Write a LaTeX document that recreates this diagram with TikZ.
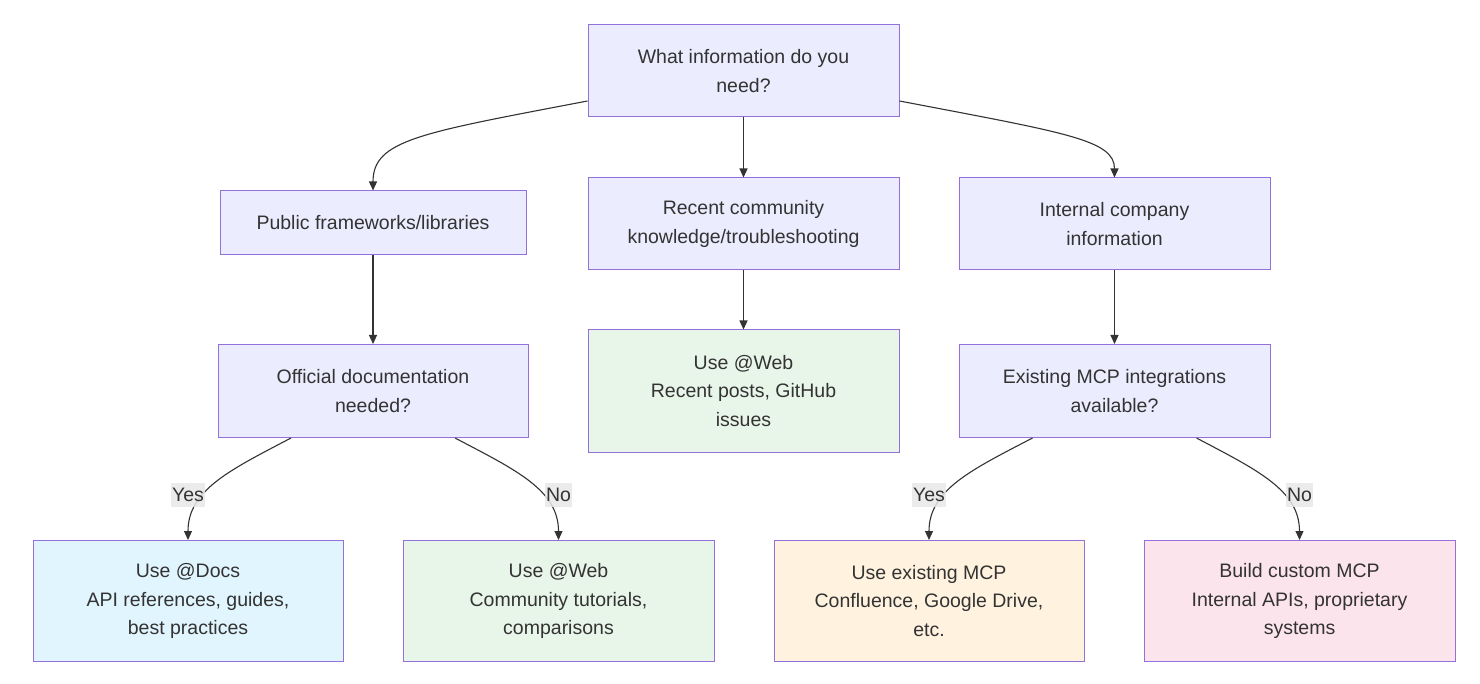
\documentclass[tikz,border=0pt]{standalone}
\usepackage{fontspec}
\setmainfont{Liberation Sans}
\usetikzlibrary{calc,arrows.meta}
\definecolor{pfill}{HTML}{ECECFF}
\definecolor{pstroke}{HTML}{9370DB}
\definecolor{gfill}{HTML}{E8F5E9}
\definecolor{bfill}{HTML}{E1F5FE}
\definecolor{ofill}{HTML}{FFF3E0}
\definecolor{kfill}{HTML}{FCE4EC}
\definecolor{txt}{HTML}{333333}
\definecolor{lblbg}{HTML}{E8E8E8}
\begin{document}
\begin{tikzpicture}[x=1pt,y=-1pt,
  box/.style={draw=pstroke, line width=1pt, fill=pfill, align=center, text=txt,
    font=\fontsize{19.5}{28.5}\selectfont, inner sep=0pt, minimum width=311pt, minimum height=92pt},
  edge/.style={draw=txt, line width=1.1pt, -{Triangle[length=9pt,width=8pt]}},
  lbl/.style={fill=lblbg, text=txt, font=\fontsize{19.5}{22}\selectfont, inner xsep=1pt, inner ysep=5pt}]
\useasboundingbox (0,0) rectangle (1480,684);
\fill[white] (0,0) rectangle (1480,684);

\node[box] (top) at (743.5,71) {What information do you\\need?};
\node[box, minimum width=306pt, minimum height=64pt] (pub) at (373,223) {Public frameworks/libraries};
\node[box] (rec) at (743.5,224) {Recent community\\knowledge/troubleshooting};
\node[box] (int) at (1114.5,224) {Internal company\\information};
\node[box, minimum width=310pt, minimum height=93pt] (off) at (373,391) {Official documentation\\needed?};
\node[box, fill=gfill, minimum height=122pt] (webr) at (743.5,391) {Use @Web\\Recent posts, GitHub\\issues};
\node[box, minimum height=93pt] (mcp) at (1114.5,391) {Existing MCP integrations\\available?};
\node[box, fill=bfill, minimum width=310pt, minimum height=121pt] (docs) at (188,601) {Use @Docs\\API references, guides,\\best practices};
\node[box, fill=gfill, minimum height=121pt] (webc) at (558.5,601) {Use @Web\\Community tutorials,\\comparisons};
\node[box, fill=ofill, minimum width=310pt, minimum height=121pt] (use) at (929,601) {Use existing MCP\\Confluence, Google Drive,\\etc.};
\node[box, fill=kfill, minimum height=121pt] (build) at (1299.5,601) {Build custom MCP\\Internal APIs, proprietary\\systems};

\draw[edge] ([yshift=-30pt]top.west) .. controls (420,133) and (373,140) .. (pub.north);
\draw[edge] ([yshift=-30pt]top.east) .. controls (1067,133) and (1114.5,140) .. (int.north);
\draw[edge] (top.south) -- (rec.north);
\draw[edge] (pub.south) -- (off.north);
\draw[edge] (rec.south) -- (webr.north);
\draw[edge] (int.south) -- (mcp.north);

\draw[edge] ([xshift=-82pt]off.south) .. controls (230,470) and (188,490) .. (docs.north);
\draw[edge] ([xshift=82pt]off.south) .. controls (516,470) and (558.5,490) .. (webc.north);
\draw[edge] ([xshift=-82pt]mcp.south) .. controls (971,470) and (929,490) .. (use.north);
\draw[edge] ([xshift=82pt]mcp.south) .. controls (1257,470) and (1299.5,490) .. (build.north);

\node[lbl, fill opacity=0.85, text opacity=1] (l1) at ($(docs.north)+(0,-45)$) {Yes};
\node[lbl, fill opacity=0.85, text opacity=1] (l2) at ($(webc.north)+(0,-45)$) {No};
\node[lbl, fill opacity=0.85, text opacity=1] (l3) at ($(use.north)+(0,-45)$) {Yes};
\node[lbl, fill opacity=0.85, text opacity=1] (l4) at ($(build.north)+(0,-45)$) {No};
\end{tikzpicture}
\end{document}
